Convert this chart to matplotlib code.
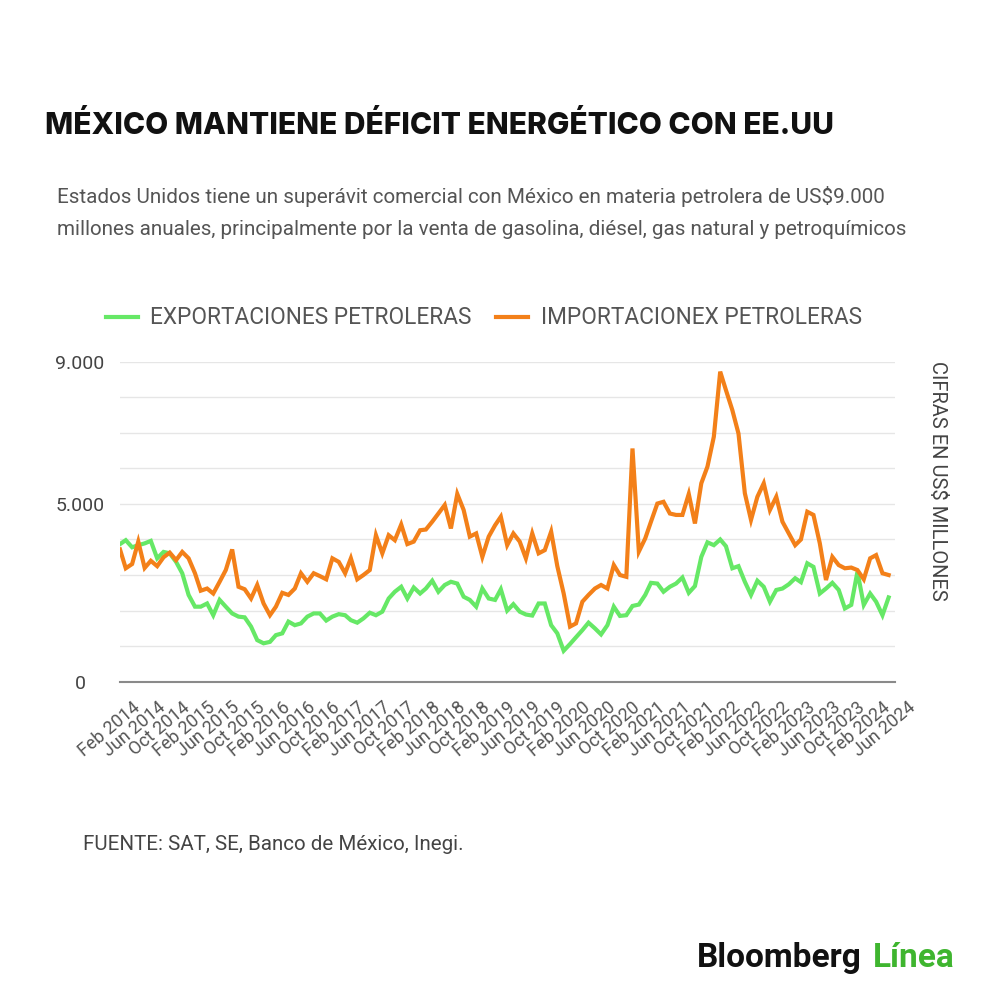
import matplotlib
matplotlib.use("Agg")
import matplotlib.pyplot as plt
import matplotlib.dates as mdates
import matplotlib.transforms as mtransforms
import pandas as pd

plt.rcParams['font.family'] = ['Roboto', 'DejaVu Sans']

# monthly values, millones de US$ (Feb 2014 - May 2024)
exportaciones = [
    3870, 3980, 3780, 3840, 3890, 3960, 3470, 3650, 3610, 3370,
    3050, 2440, 2110, 2110, 2200, 1870, 2300, 2110, 1920, 1830,
    1810, 1550, 1170, 1080, 1120, 1310, 1360, 1690, 1590, 1640,
    1830, 1920, 1920, 1720, 1830, 1900, 1870, 1730, 1660, 1780,
    1940, 1870, 1970, 2340, 2530, 2670, 2340, 2650, 2480, 2620,
    2840, 2530, 2720, 2810, 2760, 2390, 2300, 2110, 2620, 2340,
    2300, 2600, 2000, 2180, 1970, 1890, 1860, 2200, 2200, 1590,
    1360, 870, 1060, 1250, 1450, 1660, 1500, 1330, 1590, 2110,
    1850, 1870, 2130, 2170, 2440, 2780, 2760, 2530, 2670, 2760,
    2930, 2500, 2690, 3510, 3920, 3840, 4000, 3810, 3190, 3250,
    2810, 2440, 2840, 2670, 2250, 2580, 2620, 2740, 2910, 2800,
    3330, 3230, 2480, 2620, 2780, 2580, 2060, 2160, 3090, 2160,
    2480, 2250, 1870, 2370]
importaciones = [
    3720, 3190, 3310, 3940, 3200, 3400, 3250, 3500, 3630, 3420,
    3650, 3470, 3050, 2560, 2620, 2480, 2810, 3140, 3720, 2670,
    2600, 2340, 2720, 2200, 1870, 2110, 2500, 2440, 2620, 3050,
    2810, 3050, 2970, 2880, 3470, 3370, 3050, 3470, 2880, 3000,
    3140, 4120, 3610, 4120, 3980, 4420, 3870, 3940, 4260, 4280,
    4500, 4730, 4970, 4310, 5280, 4830, 4080, 4170, 3510, 4080,
    4400, 4640, 3840, 4170, 3940, 3470, 4170, 3610, 3700, 4220,
    3250, 2480, 1550, 1640, 2250, 2440, 2620, 2720, 2620, 3280,
    3000, 2950, 6560, 3660, 4030, 4500, 5010, 5060, 4730, 4690,
    4690, 5280, 4450, 5580, 6050, 6890, 8720, 8200, 7640, 6980,
    5300, 4550, 5200, 5580, 4830, 5200, 4500, 4170, 3840, 4000,
    4780, 4690, 3890, 2860, 3510, 3280, 3190, 3210, 3140, 2880,
    3470, 3560, 3050, 3000]
fechas = pd.date_range('2014-02-01', periods=len(importaciones), freq='MS')
ticks_x = pd.date_range('2014-02-01', '2024-06-01', freq='4MS')
ticks_y = [0, 1000, 2000, 3000, 4000, 5000, 6000, 7000, 8000, 9000]
labels_y = ['0', '', '', '', '', '5.000', '', '', '', '9.000']

verde = '#66e866'
naranja = '#f38019'

fig = plt.figure(figsize=(10, 10), dpi=100)
ax = fig.add_axes([0.12, 0.3183, 0.775, 0.32])

ax.plot(fechas, exportaciones, color=verde, lw=3, label='EXPORTACIONES PETROLERAS', solid_joinstyle='miter')
ax.plot(fechas, importaciones, color=naranja, lw=3, label='IMPORTACIONEX PETROLERAS', solid_joinstyle='miter')

ax.set_xlim(ticks_x[0], ticks_x[-1])
ax.set_ylim(0, 9000)
ax.set_yticks(ticks_y)
ax.set_yticklabels(labels_y)
ax.grid(axis='y', color='#e6e6e6', lw=1)
ax.set_axisbelow(True)
for s in ['top', 'right', 'left']:
    ax.spines[s].set_visible(False)
ax.spines['bottom'].set_color('#8a8a8a')
ax.spines['bottom'].set_linewidth(1.5)
ax.tick_params(axis='y', length=0, pad=28.8, labelsize=14, labelcolor='#444444')
for t in ax.get_yticklabels():
    t.set_ha('center')

ax.set_xticks(ticks_x)
ax.xaxis.set_major_formatter(mdates.DateFormatter('%b %Y'))
ax.tick_params(axis='x', length=0, pad=17, labelsize=13, labelcolor='#555555')
shift = mtransforms.ScaledTranslation(0.18, 0, fig.dpi_scale_trans)
for t in ax.get_xticklabels():
    t.set_rotation(40)
    t.set_ha('right')
    t.set_va('center')
    t.set_rotation_mode('anchor')
    t.set_transform(t.get_transform() + shift)

leg = ax.legend(loc='center left', bbox_to_anchor=(0.106, 0.682), bbox_transform=fig.transFigure,
                ncol=2, frameon=False, fontsize=16.3, handlelength=1.4, handletextpad=0.55,
                columnspacing=1.1, borderpad=0, borderaxespad=0)
for t in leg.get_texts():
    t.set_color('#555555')

fig.text(0.045, 0.866, 'MÉXICO MANTIENE DÉFICIT ENERGÉTICO CON EE.UU', fontsize=21.5,
         family=['Inter', 'Roboto', 'DejaVu Sans'], fontweight='heavy', color='#111111',
         ha='left', va='baseline')
fig.text(0.057, 0.797, 'Estados Unidos tiene un superávit comercial con México en materia petrolera de US$9.000',
         fontsize=14.9, color='#555555', ha='left', va='baseline')
fig.text(0.057, 0.765, 'millones anuales, principalmente por la venta de gasolina, diésel, gas natural y petroquímicos',
         fontsize=14.9, color='#555555', ha='left', va='baseline')

fig.text(0.937, 0.519, 'CIFRAS EN US$ MILLONES', rotation=-90, fontsize=14.5, color='#444444',
         ha='center', va='center')

fig.text(0.083, 0.155, 'FUENTE: SAT, SE, Banco de México, Inegi.', fontsize=14.8, color='#444444',
         ha='left', va='center')

fig.text(0.697, 0.033, 'Bloomberg', fontsize=24, fontweight='bold', color='#111111', ha='left', va='baseline')
fig.text(0.955, 0.033, 'Línea', fontsize=24, fontweight='bold', color='#3fb52f', ha='right', va='baseline')

fig.savefig('out.png', dpi=100, facecolor='white')
